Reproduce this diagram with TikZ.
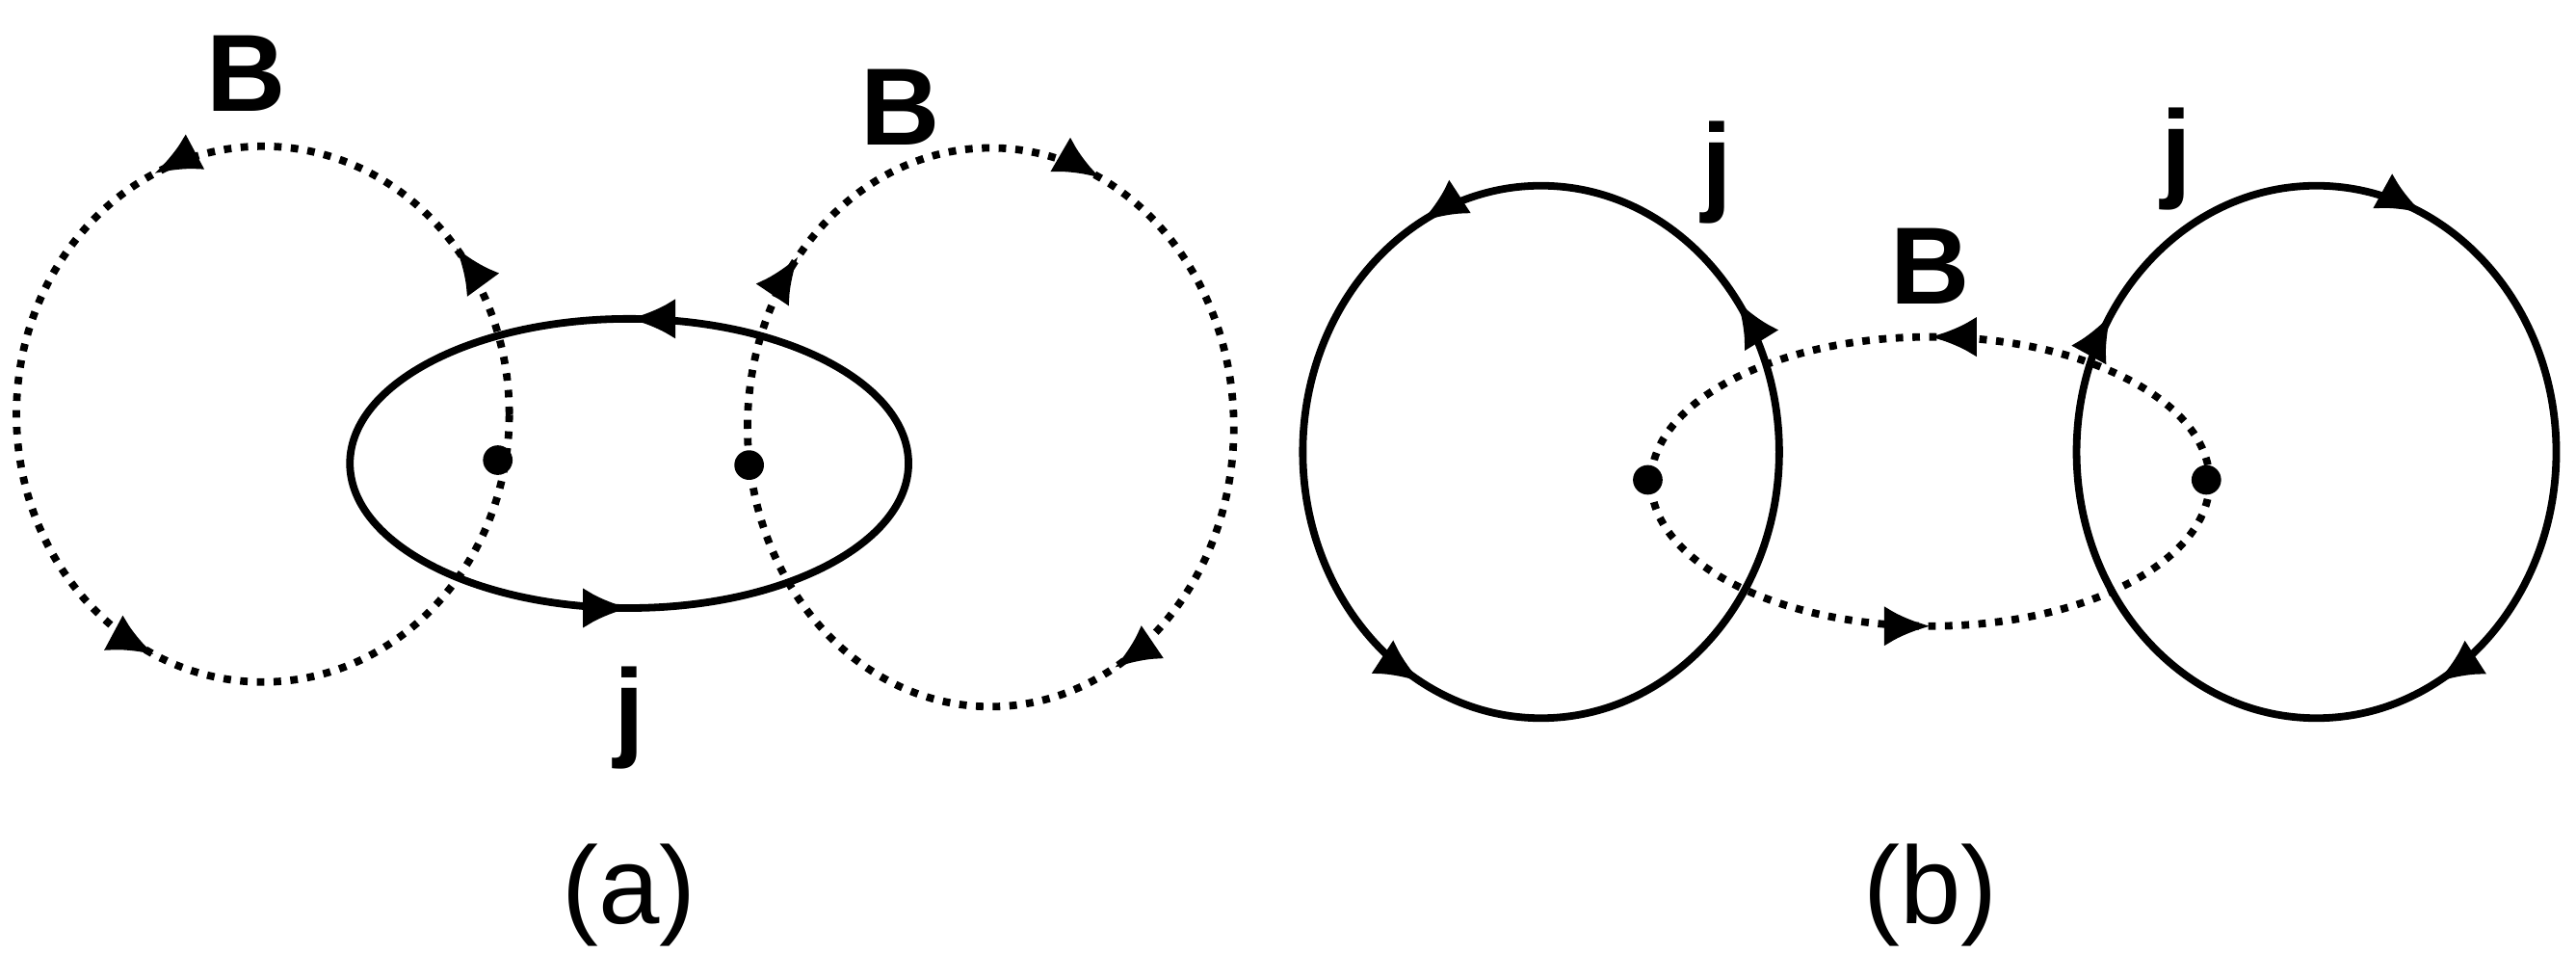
\documentclass[tikz,border=0pt]{standalone}
\usepackage{fontspec}
\setmainfont{Liberation Sans}
\usetikzlibrary{decorations.markings,arrows.meta}
\begin{document}
\begin{tikzpicture}[x=0.01cm,y=-0.01cm,
  solidline/.style={line width=1.3pt},
  dotline/.style={line width=1.3pt,dash pattern=on 1.3pt off 1.6pt},
  lbl/.style={font=\bfseries\fontsize{19}{19}\selectfont},
  captxt/.style={font=\fontsize{19}{19}\selectfont},
  dotnode/.style={circle,fill,inner sep=0pt,minimum size=0.18cm}]
\def\tp{\arrow{Latex[length=8pt,width=7pt]}}
\useasboundingbox (0,0) rectangle (1568,596);
% (a)
\draw[solidline,postaction={decorate},decoration={markings,
  mark=at position 0.25 with {\tp},
  mark=at position 0.75 with {\tp}}]
  (553,282) arc[start angle=0,end angle=-360,x radius=170,y radius=88];
\draw[dotline,postaction={decorate},decoration={markings,
  mark=at position 0.11 with {\tp},
  mark=at position 0.32 with {\tp},
  mark=at position 0.68 with {\tp}}]
  (310,252) arc[start angle=0,end angle=-360,x radius=150,y radius=163];
\draw[dotline,postaction={decorate},decoration={markings,
  mark=at position 0.11 with {\tp},
  mark=at position 0.32 with {\tp},
  mark=at position 0.67 with {\tp}}]
  (455,260) arc[start angle=180,end angle=540,x radius=148,y radius=170];
\node[dotnode] (d1) at (303,280) {};
\node[dotnode] (d2) at (456,283) {};
\node[lbl] (b1) at (150,45) {B};
\node[lbl] (b2) at (548,65) {B};
\node[lbl] (j1) at (383,437) {j};
\node[captxt] (ca) at (383,545) {(a)};
% (b)
\draw[solidline,postaction={decorate},decoration={markings,
  mark=at position 0.1 with {\tp},
  mark=at position 0.33 with {\tp},
  mark=at position 0.67 with {\tp}}]
  (1083,275) arc[start angle=0,end angle=-360,x radius=145,y radius=162];
\draw[solidline,postaction={decorate},decoration={markings,
  mark=at position 0.09 with {\tp},
  mark=at position 0.32 with {\tp},
  mark=at position 0.67 with {\tp}}]
  (1264,275) arc[start angle=180,end angle=540,x radius=146,y radius=162];
\draw[dotline,postaction={decorate},decoration={markings,
  mark=at position 0.25 with {\tp},
  mark=at position 0.75 with {\tp}}]
  (1345,293) arc[start angle=0,end angle=-360,x radius=170,y radius=88];
\node[dotnode] (d3) at (1003,292) {};
\node[dotnode] (d4) at (1343,292) {};
\node[lbl] (j2) at (1045,105) {j};
\node[lbl] (j3) at (1325,97) {j};
\node[lbl] (b3) at (1175,162) {B};
\node[captxt] (cb) at (1175,545) {(b)};
\end{tikzpicture}
\end{document}
